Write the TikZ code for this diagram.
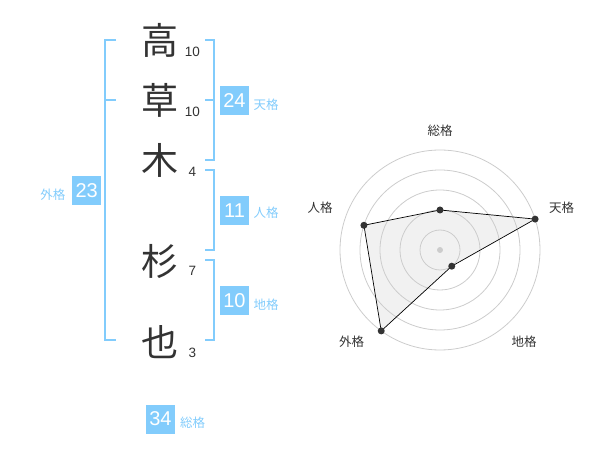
\documentclass[tikz,border=0pt]{standalone}
\usepackage{fontspec}
\setmainfont{Liberation Sans}
\newfontfamily\jp{Noto Sans CJK JP}
\definecolor{ink}{HTML}{333333}
\definecolor{sky}{HTML}{82CCFC}
\definecolor{ringc}{HTML}{CCCCCC}
\definecolor{areafill}{HTML}{EEEEEE}
\begin{document}
\begin{tikzpicture}[x=1pt,y=-1pt,
  kanji/.style={font=\jp\fontsize{37}{37}\selectfont, text=ink, inner sep=0},
  strokes/.style={font=\fontsize{13.5}{14}\selectfont, text=ink, inner sep=0},
  badge/.style={fill=sky, text=white, font=\fontsize{20}{20}\selectfont, minimum size=29pt, inner sep=0},
  glabel/.style={font=\jp\fontsize{12.5}{13}\selectfont, text=sky, inner sep=0},
  bracket/.style={draw=sky, line width=2pt},
  rlabel/.style={font=\jp\fontsize{12.5}{13}\selectfont, text=ink, inner sep=0},
  ring/.style={draw=ringc, line width=0.8pt},
  vdot/.style={circle, fill=ink, inner sep=0, minimum size=7pt},
]
\useasboundingbox (0,0) rectangle (600,470);

% kanji
\node[kanji] (k1) at (160,40) {高};
\node[kanji] (k2) at (160,100) {草};
\node[kanji] (k3) at (160,160) {木};
\node[kanji] (k4) at (160,261) {杉};
\node[kanji] (k5) at (160,342) {也};

% stroke counts
\node[strokes] (s1) at (192.5,52) {10};
\node[strokes] (s2) at (192.5,112) {10};
\node[strokes] (s3) at (192.5,172) {4};
\node[strokes] (s4) at (192.5,271) {7};
\node[strokes] (s5) at (192.5,353) {3};

% brackets
\draw[bracket] (116,40) -- (105,40) -- (105,340) -- (116,340);
\draw[bracket] (105,100) -- (116,100);
\draw[bracket] (205,40) -- (214,40) -- (214,160) -- (205,160);
\draw[bracket] (205,100) -- (214,100);
\draw[bracket] (205,170) -- (214,170) -- (214,250) -- (205,250);
\draw[bracket] (205,260) -- (214,260) -- (214,340) -- (205,340);

% badges
\node[badge] (b1) at (234.5,100.3) {24};
\node[glabel, anchor=west] (l1) at (253.5,104.3) {天格};
\node[badge] (b2) at (234.5,210.5) {11};
\node[glabel, anchor=west] (l2) at (253.5,212.3) {人格};
\node[badge] (b3) at (234.5,300.3) {10};
\node[glabel, anchor=west] (l3) at (253.5,304.3) {地格};
\node[badge] (b4) at (86.7,190.3) {23};
\node[glabel, anchor=east] (l4) at (65.5,194.3) {外格};
\node[badge] (b5) at (160.5,419) {34};
\node[glabel, anchor=west] (l5) at (180,422.3) {総格};

% radar chart
\begin{scope}[shift={(440,250)}, yscale=-1]
  \coordinate (c) at (0,0);
  \coordinate (p1) at (90:40);
  \coordinate (p2) at (18:100);
  \coordinate (p3) at (-54:20);
  \coordinate (p4) at (-126:100);
  \coordinate (p5) at (162:80);
  \fill[areafill, fill opacity=0.8] (p1) -- (p2) -- (p3) -- (p4) -- (p5) -- cycle;
  \foreach \r in {20,40,60,80,100} \draw[ring] (c) circle[radius=\r];
  \fill[ringc] (c) circle[radius=3];
  \draw[black, line width=0.7pt] (p1) -- (p2) -- (p3) -- (p4) -- (p5) -- cycle;
  \foreach \p in {p1,p2,p3,p4,p5} \node[vdot] at (\p) {};
\end{scope}
\node[rlabel] (r1) at (440,130.7) {総格};
\node[rlabel] (r2) at (561.7,208) {天格};
\node[rlabel] (r3) at (524,341.7) {地格};
\node[rlabel] (r4) at (351.7,341.7) {外格};
\node[rlabel] (r5) at (320,208) {人格};
\end{tikzpicture}
\end{document}
